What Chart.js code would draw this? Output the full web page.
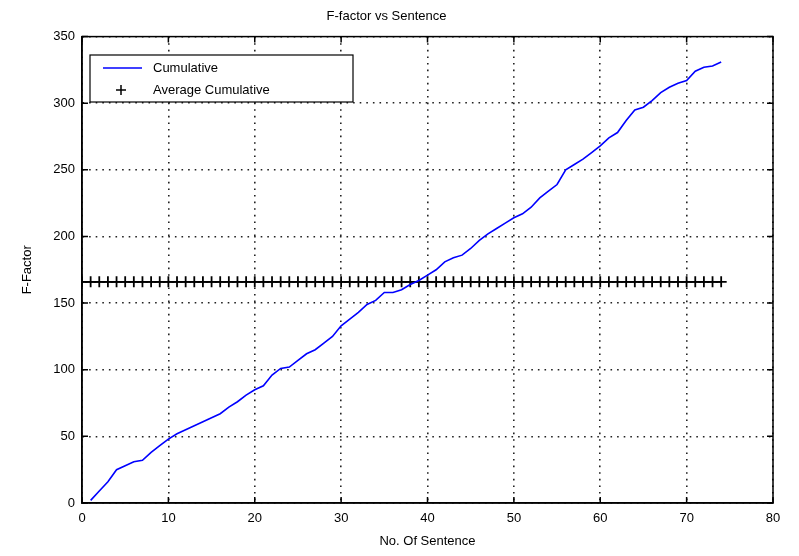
<!DOCTYPE html>
<html>
<head>
<meta charset="utf-8">
<title>F-factor vs Sentence</title>
<script src="https://cdn.jsdelivr.net/npm/chart.js@4.4.1/dist/chart.umd.min.js"></script>
<style>
  html, body { margin: 0; padding: 0; background: #fff; }
  canvas { display: block; }
</style>
</head>
<body>
<canvas id="fChart" width="799" height="556"></canvas>
<script>
// =========================
// DATA
// =========================
const sentences = [
  1, 2, 3, 4, 5, 6, 7, 8, 9, 10, 11, 12, 13, 14, 15, 16, 17, 18, 19, 20,
  21, 22, 23, 24, 25, 26, 27, 28, 29, 30, 31, 32, 33, 34, 35, 36, 37, 38, 39, 40,
  41, 42, 43, 44, 45, 46, 47, 48, 49, 50, 51, 52, 53, 54, 55, 56, 57, 58, 59, 60,
  61, 62, 63, 64, 65, 66, 67, 68, 69, 70, 71, 72, 73, 74
];

const cumulative = [
  2, 9, 16, 25, 28, 31, 32, 38, 43, 48, 52, 55, 58, 61, 64, 67, 72, 76, 81, 85,
  88, 96, 101, 102, 107, 112, 115, 120, 125, 133, 138, 143, 149, 152, 158, 158, 160, 164, 167, 171,
  175, 181, 184, 186, 191, 197, 202, 206, 210, 214, 217, 222, 229, 234, 239, 250, 254, 258, 263, 268,
  274, 278, 287, 295, 297, 302, 308, 312, 315, 317, 324, 327, 328, 331
];

// the average markers start on the y axis (sentence 0)
const avgSentences = [
  0, 1, 2, 3, 4, 5, 6, 7, 8, 9, 10, 11, 12, 13, 14, 15, 16, 17, 18, 19, 20,
  21, 22, 23, 24, 25, 26, 27, 28, 29, 30, 31, 32, 33, 34, 35, 36, 37, 38, 39, 40,
  41, 42, 43, 44, 45, 46, 47, 48, 49, 50, 51, 52, 53, 54, 55, 56, 57, 58, 59, 60,
  61, 62, 63, 64, 65, 66, 67, 68, 69, 70, 71, 72, 73, 74
];

const averageCumulative = [
  166,
  166, 166, 166, 166, 166, 166, 166, 166, 166, 166, 166, 166, 166, 166, 166, 166, 166, 166, 166, 166,
  166, 166, 166, 166, 166, 166, 166, 166, 166, 166, 166, 166, 166, 166, 166, 166, 166, 166, 166, 166,
  166, 166, 166, 166, 166, 166, 166, 166, 166, 166, 166, 166, 166, 166, 166, 166, 166, 166, 166, 166,
  166, 166, 166, 166, 166, 166, 166, 166, 166, 166, 166, 166, 166, 166
];

const xTicks = [0, 10, 20, 30, 40, 50, 60, 70, 80];
const yTicks = [0, 50, 100, 150, 200, 250, 300, 350];

const seriesNames = ['Cumulative', 'Average Cumulative'];

const FONT = '"Liberation Sans", Arial, sans-serif';

// =========================
// BOX, INWARD TICKS, LEGEND
// =========================
const matlabFrame = {
  id: 'matlabFrame',
  afterDraw(chart) {
    const { ctx, chartArea: a, scales } = chart;
    ctx.save();
    ctx.strokeStyle = '#000';
    ctx.lineWidth = 1.5;
    ctx.strokeRect(a.left, a.top, a.right - a.left, a.bottom - a.top);

    ctx.beginPath();
    xTicks.forEach(v => {
      const x = scales.x.getPixelForValue(v);
      ctx.moveTo(x, a.bottom); ctx.lineTo(x, a.bottom - 6);
      ctx.moveTo(x, a.top); ctx.lineTo(x, a.top + 6);
    });
    yTicks.forEach(v => {
      const y = scales.y.getPixelForValue(v);
      ctx.moveTo(a.left, y); ctx.lineTo(a.left + 6, y);
      ctx.moveTo(a.right, y); ctx.lineTo(a.right - 6, y);
    });
    ctx.stroke();

    // legend box
    const lx = 90, ly = 55, lw = 263, lh = 47;
    ctx.fillStyle = '#fff';
    ctx.fillRect(lx, ly, lw, lh);
    ctx.lineWidth = 1.2;
    ctx.strokeRect(lx, ly, lw, lh);

    ctx.strokeStyle = '#0000ff';
    ctx.lineWidth = 1.5;
    ctx.beginPath();
    ctx.moveTo(103, 68); ctx.lineTo(142, 68);
    ctx.stroke();

    ctx.strokeStyle = '#000';
    ctx.beginPath();
    ctx.moveTo(116, 90); ctx.lineTo(126, 90);
    ctx.moveTo(121, 85); ctx.lineTo(121, 95);
    ctx.stroke();

    ctx.fillStyle = '#000';
    ctx.font = '13px ' + FONT;
    ctx.textBaseline = 'middle';
    ctx.textAlign = 'left';
    ctx.fillText(seriesNames[0], 153, 68);
    ctx.fillText(seriesNames[1], 153, 90);
    ctx.restore();
  }
};

// =========================
// CHART
// =========================
const ctx = document.getElementById('fChart').getContext('2d');

new Chart(ctx, {
  type: 'line',
  data: {
    datasets: [
      {
        label: seriesNames[0],
        data: sentences.map((s, i) => ({ x: s, y: cumulative[i] })),
        borderColor: '#0000ff',
        borderWidth: 1.6,
        pointRadius: 0,
        tension: 0,
        fill: false
      },
      {
        label: seriesNames[1],
        data: avgSentences.map((s, i) => ({ x: s, y: averageCumulative[i] })),
        borderColor: '#000',
        borderWidth: 1.8,
        pointStyle: 'cross',
        pointRadius: 5.5,
        pointBorderWidth: 1.8,
        pointBorderColor: '#000',
        tension: 0,
        fill: false
      }
    ]
  },
  options: {
    responsive: false,
    animation: false,
    devicePixelRatio: 1,
    layout: { padding: { left: 0, right: 26, top: 0, bottom: 0 } },
    plugins: {
      legend: { display: false },
      tooltip: { enabled: false },
      title: {
        display: true,
        text: 'F-factor vs Sentence',
        color: '#000',
        font: { family: FONT, size: 13, weight: 'normal' },
        padding: { top: 9, bottom: 12 }
      }
    },
    scales: {
      x: {
        type: 'linear',
        min: 0,
        max: 80,
        afterFit(scale) { scale.height = 53; },
        afterBuildTicks(scale) { scale.ticks = xTicks.map(v => ({ value: v })); },
        ticks: { color: '#000', padding: 8, font: { family: FONT, size: 13 } },
        grid: { color: '#222', lineWidth: 1.6, drawTicks: false },
        border: { display: true, color: '#000', width: 1.5, dash: [1.6, 5] },
        title: {
          display: true,
          text: 'No. Of Sentence',
          color: '#000',
          font: { family: FONT, size: 13 },
          padding: { top: 0, bottom: 7 }
        }
      },
      y: {
        min: 0,
        max: 350,
        afterFit(scale) { scale.width = 82; },
        afterBuildTicks(scale) { scale.ticks = yTicks.map(v => ({ value: v })); },
        ticks: { color: '#000', padding: 7, font: { family: FONT, size: 13 } },
        grid: { color: '#222', lineWidth: 1.6, drawTicks: false },
        border: { display: true, color: '#000', width: 1.5, dash: [1.6, 5] },
        title: {
          display: true,
          text: 'F-Factor',
          color: '#000',
          font: { family: FONT, size: 13 },
          padding: { top: 20, bottom: 0 }
        }
      }
    }
  },
  plugins: [matlabFrame]
});
</script>
</body>
</html>
